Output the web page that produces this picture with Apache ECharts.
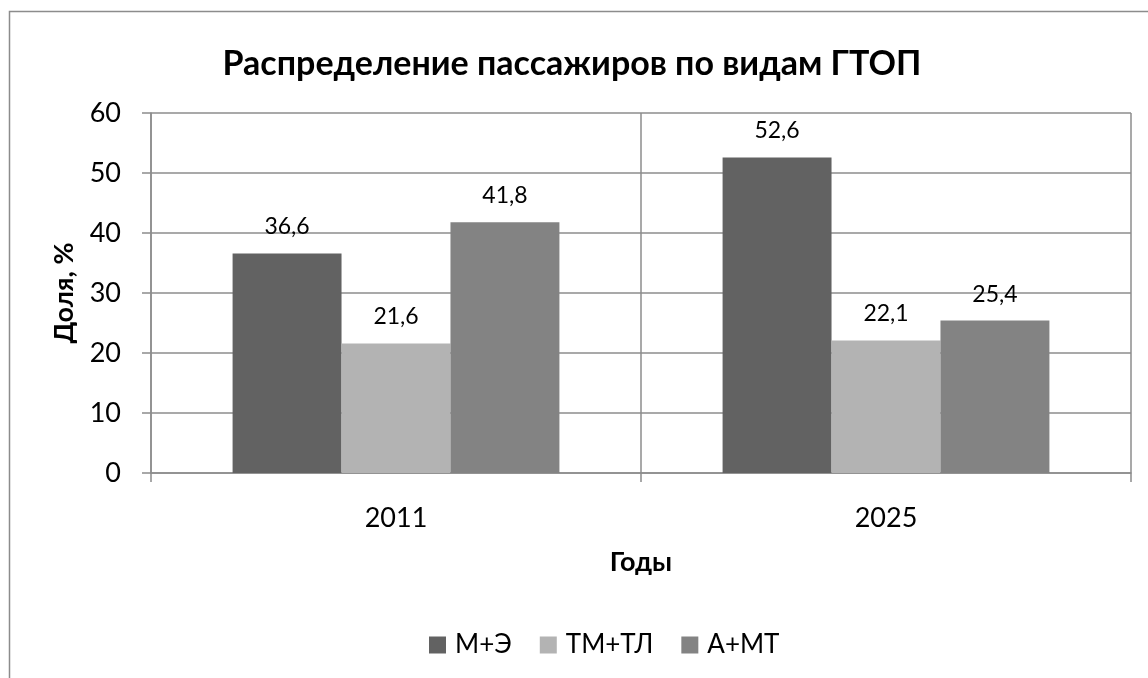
<!DOCTYPE html>
<html>
<head>
<meta charset="utf-8">
<script src="https://cdn.jsdelivr.net/npm/echarts@6/dist/echarts.min.js"></script>
<style>
  html, body { margin: 0; padding: 0; background: #fff; }
  #main { width: 1148px; height: 678px; }
</style>
</head>
<body>
<div id="main"></div>
<script>
const years = ['2011', '2025']
const seriesNames = ['М+Э', 'ТМ+ТЛ', 'А+МТ']
const meData = [36.6, 52.6]     // М+Э
const tmtlData = [21.6, 22.1]   // ТМ+ТЛ
const amtData = [41.8, 25.4]    // А+МТ
const colors = ['#626262', '#b3b3b3', '#838383']

const font = 'Lato, "Open Sans", sans-serif'
const axisGray = '#8c8c8c'

const chart = echarts.init(document.getElementById('main'))

function barSeries(name, data, color) {
  return {
    name: name,
    type: 'bar',
    data: data,
    barGap: 0,
    barCategoryGap: '33.3%',
    itemStyle: { color: color },
    label: {
      show: true,
      position: 'top',
      distance: 15,
      fontFamily: font,
      fontSize: 23,
      color: '#000',
      formatter: p => String(p.value).replace('.', ',')
    },
    animation: false
  }
}

chart.setOption({
  // outer chart border
  graphic: [{
    type: 'rect',
    shape: { x: 9.5, y: 11.5, width: 1200, height: 700 },
    style: { fill: 'none', stroke: '#8c8c8c', lineWidth: 1.5 },
    silent: true
  }],
  title: {
    text: 'Распределение пассажиров по видам ГТОП',
    left: 567,
    textAlign: 'center',
    top: 42,
    textStyle: { fontFamily: font, fontSize: 34, fontWeight: 'bold', color: '#000' }
  },
  legend: {
    data: seriesNames,
    left: 424,
    top: 627,
    itemWidth: 17,
    itemHeight: 17,
    itemGap: 28,
    icon: 'rect',
    textStyle: { fontFamily: font, fontSize: 26, color: '#000', padding: [0, 0, 0, 4] }
  },
  grid: { left: 151, right: 17, top: 113, bottom: 205 },
  xAxis: {
    type: 'category',
    data: years,
    name: 'Годы',
    nameLocation: 'middle',
    nameGap: 76,
    nameTextStyle: { fontFamily: font, fontSize: 27, fontWeight: 'bold', color: '#000' },
    axisLine: { lineStyle: { color: axisGray, width: 1.5 } },
    axisTick: { show: true, length: 9, lineStyle: { color: axisGray, width: 1.5 } },
    splitLine: { show: true, lineStyle: { color: axisGray, width: 1.5 } },
    axisLabel: { fontFamily: font, fontSize: 27, color: '#000', margin: 32 }
  },
  yAxis: {
    type: 'value',
    min: 0,
    max: 60,
    interval: 10,
    name: 'Доля, %',
    nameLocation: 'middle',
    nameGap: 73,
    nameTextStyle: { fontFamily: font, fontSize: 27, fontWeight: 'bold', color: '#000' },
    axisLine: { show: true, lineStyle: { color: axisGray, width: 1.5 } },
    axisTick: { show: true, length: 9, lineStyle: { color: axisGray, width: 1.5 } },
    splitLine: { lineStyle: { color: axisGray, width: 1.5 } },
    axisLabel: { fontFamily: font, fontSize: 27, color: '#000', margin: 30 }
  },
  series: [
    barSeries(seriesNames[0], meData, colors[0]),
    barSeries(seriesNames[1], tmtlData, colors[1]),
    barSeries(seriesNames[2], amtData, colors[2])
  ]
})
</script>
</body>
</html>
